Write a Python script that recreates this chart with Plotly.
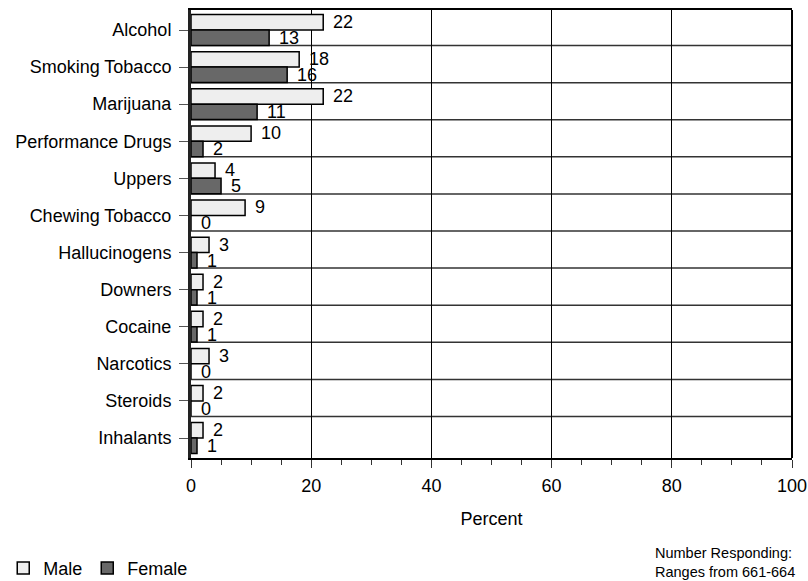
import plotly.graph_objects as go

# Substance use by gender (percent of respondents)
categories = ["Alcohol", "Smoking Tobacco", "Marijuana", "Performance Drugs", "Uppers",
              "Chewing Tobacco", "Hallucinogens", "Downers", "Cocaine", "Narcotics",
              "Steroids", "Inhalants"]
male = [22, 18, 22, 10, 4, 9, 3, 2, 2, 3, 2, 2]
female = [13, 16, 11, 2, 5, 0, 1, 1, 1, 0, 0, 1]
x_ticks = [0, 20, 40, 60, 80, 100]
note = "Number Responding:<br>Ranges from 661-664"

FONT = "Liberation Sans, Arial, sans-serif"
FS = 18
MALE_COLOR = "#EEEEEE"
FEMALE_COLOR = "#686868"

fig = go.Figure()
fig.add_trace(go.Bar(y=categories, x=male, name="Male", orientation="h",
                     marker=dict(color=MALE_COLOR, line=dict(color="black", width=1.5))))
fig.add_trace(go.Bar(y=categories, x=female, name="Female", orientation="h",
                     marker=dict(color=FEMALE_COLOR, line=dict(color="black", width=1.5))))

# value labels just past the end of each bar
annotations = []
for cat, m, f in zip(categories, male, female):
    annotations.append(dict(x=m, y=cat, xref="x", yref="y", text=str(m), showarrow=False,
                            xanchor="left", yanchor="middle", xshift=8, yshift=8,
                            font=dict(size=FS, color="black", family=FONT)))
    annotations.append(dict(x=f, y=cat, xref="x", yref="y", text=str(f), showarrow=False,
                            xanchor="left", yanchor="middle", xshift=8, yshift=-8,
                            font=dict(size=FS, color="black", family=FONT)))
annotations.append(dict(x=0.768, y=-0.233, xref="paper", yref="paper", text=note,
                        showarrow=False, xanchor="left", yanchor="middle", align="left",
                        font=dict(size=14.5, color="black", family=FONT)))

# separators between category bands and the right-hand border
shapes = []
for i in range(len(categories) - 1):
    shapes.append(dict(type="line", xref="x domain", yref="y", x0=0, x1=1,
                       y0=i + 0.5 - 0.08, y1=i + 0.5 - 0.08,
                       line=dict(color="#333333", width=1.5), layer="below"))
shapes.append(dict(type="line", xref="x domain", yref="y domain", x0=1, x1=1, y0=0, y1=1,
                   line=dict(color="black", width=2)))

fig.update_layout(
    width=808, height=581,
    margin=dict(l=191, r=16, t=10, b=123),
    paper_bgcolor="white", plot_bgcolor="white",
    barmode="group", bargap=0.17, bargroupgap=0,
    font=dict(family=FONT, size=FS, color="black"),
    showlegend=True,
    legend=dict(orientation="h", xref="container", yref="container", x=0.004, y=0.022,
                xanchor="left", yanchor="middle", font=dict(size=FS),
                traceorder="normal", itemclick=False, itemdoubleclick=False),
    annotations=annotations,
    shapes=shapes,
)
fig.update_xaxes(range=[0, 100], tickvals=x_ticks, showgrid=True, gridcolor="black",
                 gridwidth=1, zeroline=False, showline=True, linecolor="black", linewidth=2,
                 mirror=True, ticks="outside", ticklen=8, tickcolor="#333333",
                 ticklabelstandoff=2, automargin=False,
                 minor=dict(dtick=5, ticks="outside", ticklen=5, tickcolor="#333333",
                            showgrid=False),
                 title=dict(text="Percent", standoff=18, font=dict(size=FS)))
fig.update_yaxes(autorange="reversed", showgrid=False, zeroline=False, showline=True,
                 linecolor="#222222", linewidth=3, ticks="outside", ticklen=9,
                 tickcolor="#555555", ticklabelstandoff=4, automargin=False)

fig.write_html("out.html")
